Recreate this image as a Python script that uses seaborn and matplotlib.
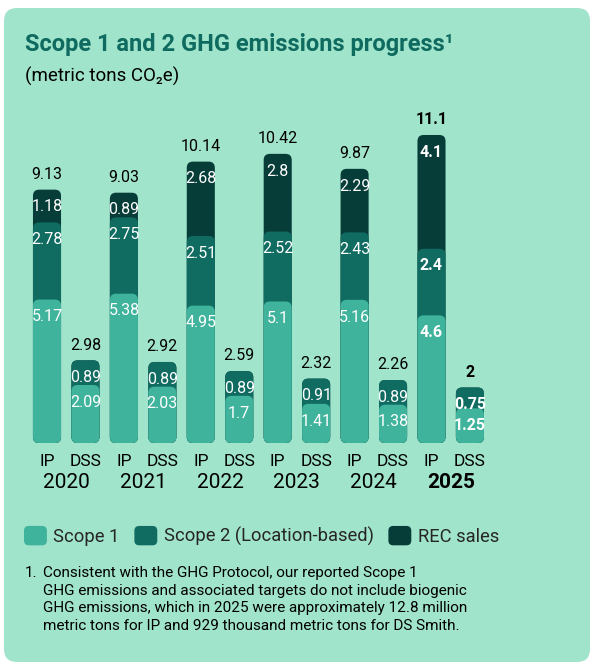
import numpy as np
import pandas as pd
import matplotlib
matplotlib.use('Agg')
import matplotlib.pyplot as plt
import seaborn as sns
from matplotlib.patches import FancyBboxPatch, Patch
from matplotlib.legend_handler import HandlerPatch

# ---- data (metric tons CO2e) ----
years = ['2020', '2021', '2022', '2023', '2024', '2025']
ip_scope1 = [5.17, 5.38, 4.95, 5.1, 5.16, 4.6]
ip_scope2 = [2.78, 2.75, 2.51, 2.52, 2.43, 2.4]
ip_rec = [1.18, 0.89, 2.68, 2.8, 2.29, 4.1]
ip_total = [9.13, 9.03, 10.14, 10.42, 9.87, 11.1]
dss_scope1 = [2.09, 2.03, 1.7, 1.41, 1.38, 1.25]
dss_scope2 = [0.89, 0.89, 0.89, 0.91, 0.89, 0.75]
dss_total = [2.98, 2.92, 2.59, 2.32, 2.26, 2]
companies = ['IP', 'DSS']

C_S1 = '#3fb39b'
C_S2 = '#106b61'
C_REC = '#073d38'
C_BG = '#a1e4cc'
C_TITLE = '#0f6b5f'

sns.set_theme(style='white')
plt.rcParams['font.family'] = ['Roboto', 'DejaVu Sans']

# long table: one row per bar
rows = []
for g, yr in enumerate(years):
    rows.append(dict(pos=2 * g, year=yr, company='IP', s1=ip_scope1[g], s2=ip_scope2[g],
                     rec=ip_rec[g], total=ip_total[g]))
    rows.append(dict(pos=2 * g + 1, year=yr, company='DSS', s1=dss_scope1[g], s2=dss_scope2[g],
                     rec=0.0, total=dss_total[g]))
df = pd.DataFrame(rows)
df['top2'] = df['s1'] + df['s2']
df['top3'] = df['top2'] + df['rec']

W, H = 596, 666
fig = plt.figure(figsize=(W / 100, H / 100), dpi=100)
fig.patch.set_facecolor('white')

# rounded card
card = FancyBboxPatch((0.04, 0.04), 5.86, 6.54, boxstyle='round,pad=0,rounding_size=0.13',
                      transform=fig.dpi_scale_trans, facecolor=C_BG, edgecolor='none', zorder=-10)
fig.patches.append(card)

px_x = 38.45   # pixels per x unit
px_y = 27.75   # pixels per ton
x0_px = 47
base_px = 443
top_px = 100
ax = fig.add_axes([0, (H - base_px) / H, 1, (base_px - top_px) / H])
ax.set_facecolor('none')
ax.set_zorder(1)

bw = 0.73
for col, color in [('top3', C_REC), ('top2', C_S2), ('s1', C_S1)]:
    sub = df[df[col] > 0]
    sns.barplot(data=sub, x='pos', y=col, native_scale=True, color=color,
                width=bw, linewidth=0, saturation=1, ax=ax, errorbar=None)

# swap rectangles for rounded ones
aspect = px_x / px_y
rects = list(ax.patches)
for r in rects:
    x, y = r.get_x(), r.get_y()
    w, h = r.get_width(), r.get_height()
    fc = r.get_facecolor()
    r.remove()
    ax.add_patch(FancyBboxPatch((x, y), w, h, boxstyle='round,pad=0,rounding_size=0.16',
                                mutation_aspect=aspect, facecolor=fc, edgecolor='none'))

ax.set_xlim(-x0_px / px_x, (W - x0_px) / px_x)
ax.set_ylim(0, (base_px - top_px) / px_y)
ax.set_axis_off()

# value labels
off_in = 0.62
for _, r in df.iterrows():
    bold = 'bold' if r['year'] == years[-1] else 'normal'
    ax.text(r['pos'], r['top3'] + 0.55, f"{r['total']:g}", ha='center', va='center',
            fontsize=11.5, color='black', fontweight=bold)
    if r['rec'] > 0:
        ax.text(r['pos'], r['top3'] - off_in, f"{r['rec']:g}", ha='center', va='center',
                fontsize=11.5, color='white', fontweight=bold)
    ax.text(r['pos'], r['top2'] - off_in, f"{r['s2']:g}", ha='center', va='center',
            fontsize=11.5, color='white', fontweight=bold)
    ax.text(r['pos'], r['s1'] - off_in, f"{r['s1']:g}", ha='center', va='center',
            fontsize=11.5, color='white', fontweight=bold)
    ax.text(r['pos'], -18 / px_y, r['company'], ha='center', va='center',
            fontsize=12.5, color='black', clip_on=False)

for g, yr in enumerate(years):
    ax.text(2 * g + 0.5, -39 / px_y, yr, ha='center', va='center', fontsize=15,
            color='black', fontweight='bold' if yr == years[-1] else 'normal', clip_on=False)

# title
fig.text(25 / W, 1 - 45 / H, 'Scope 1 and 2 GHG emissions progress\u00b9', ha='left', va='center',
         fontsize=17, fontweight='bold', color=C_TITLE)
fig.text(25 / W, 1 - 76 / H, '(metric tons CO\u2082e)', ha='left', va='center',
         fontsize=13.5, color='black')


# legend with rounded swatches
class RoundHandler(HandlerPatch):
    def create_artists(self, legend, orig_handle, xdescent, ydescent, width, height,
                       fontsize, trans):
        p = FancyBboxPatch((-xdescent, -ydescent), width, height,
                           boxstyle='round,pad=0,rounding_size=%f' % (height * 0.25),
                           facecolor=orig_handle.get_facecolor(), edgecolor='none',
                           transform=trans)
        return [p]


handles = [Patch(color=C_S1, label='Scope 1'),
           Patch(color=C_S2, label='Scope 2 (Location-based)'),
           Patch(color=C_REC, label='REC sales')]
fig.legend(handles=handles, loc='center left', bbox_to_anchor=(24 / W, 1 - 536 / H),
           ncol=3, frameon=False, fontsize=13.2, handlelength=1.25, handleheight=1.25,
           handletextpad=0.35, columnspacing=0.8, borderaxespad=0, borderpad=0,
           handler_map={Patch: RoundHandler()})

# footnote
note = ('Consistent with the GHG Protocol, our reported Scope 1\n'
        'GHG emissions and associated targets do not include biogenic\n'
        'GHG emissions, which in 2025 were approximately 12.8 million\n'
        'metric tons for IP and 929 thousand metric tons for DS Smith.')
fig.text(25 / W, 1 - 566 / H, '1.', ha='left', va='top', fontsize=11, color='black')
fig.text(43 / W, 1 - 566 / H, note, ha='left', va='top', fontsize=11, color='black',
         linespacing=1.33)

fig.savefig('out.png', dpi=100, facecolor='white')
